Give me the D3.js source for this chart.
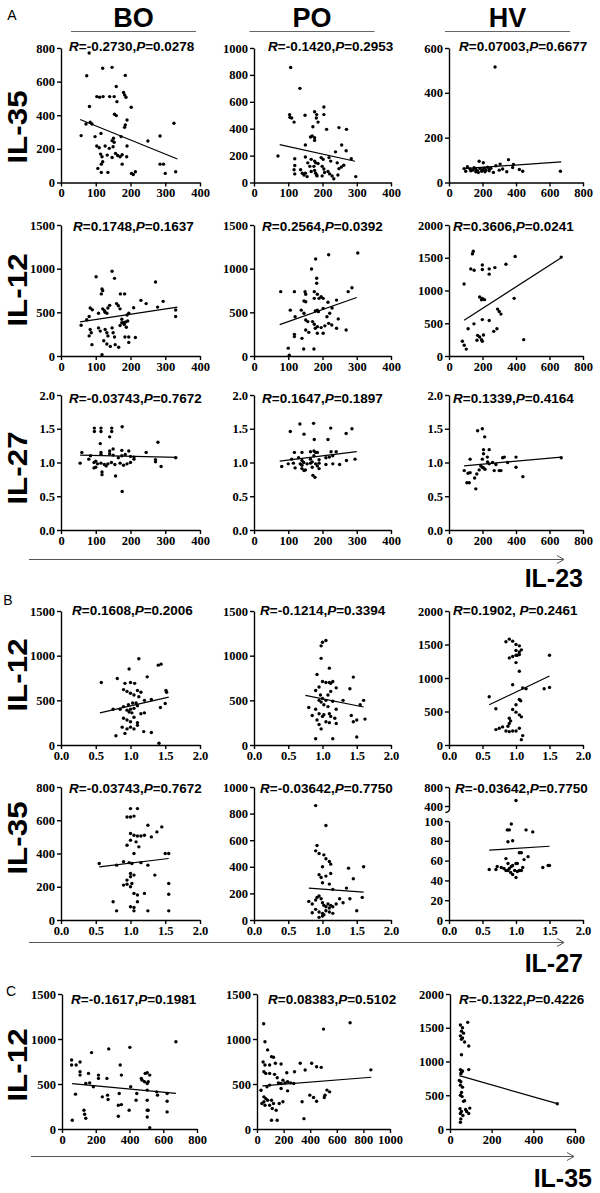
<!DOCTYPE html>
<html><head><meta charset="utf-8">
<script src="https://cdn.jsdelivr.net/npm/d3@7"></script>
<style>body{margin:0;background:#fff}</style></head>
<body><svg id="c" width="600" height="1193"></svg>
<script>
// ---------------- DATA ----------------
const groups = ["BO","PO","HV"];
const sectionLetters = ["A","B","C"];
const rowLabels = ["IL-35","IL-12","IL-27","IL-12","IL-35","IL-12"];
const xAxisTitles = ["IL-23","IL-27","IL-35"];

const stats = [
 [["-0.2730","0.0278"],["-0.1420","0.2953"],["0.07003","0.6677"]],
 [["0.1748","0.1637"],["0.2564","0.0392"],["0.3606","0.0241"]],
 [["-0.03743","0.7672"],["0.1647","0.1897"],["0.1339","0.4164"]],
 [["0.1608","0.2006"],["-0.1214","0.3394"],["0.1902","0.2461"]],
 [["-0.03743","0.7672"],["-0.03642","0.7750"],["-0.03642","0.7750"]],
 [["-0.1617","0.1981"],["0.08383","0.5102"],["-0.1322","0.4226"]]
];

const ticksIL23_400 = [0,100,200,300,400];
const ticksIL23_800 = [0,200,400,600,800];
const ticksIL27 = [0,0.5,1.0,1.5,2.0];
const ticksIL35_800 = [0,200,400,600,800];
const ticksIL35_1000 = [0,200,400,600,800,1000];
const ticksIL35_600 = [0,200,400,600];
const ticksY800 = [0,200,400,600,800];
const ticksY1000 = [0,200,400,600,800,1000];
const ticksY600 = [0,200,400,600];
const ticksY1500 = [0,500,1000,1500];
const ticksY2000 = [0,500,1000,1500,2000];
const ticksY2 = [0,0.5,1.0,1.5,2.0];
const ticksHVlow = [0,20,40,60,80,100];
const ticksHVhigh = [400,800];

// Row A1: IL-23 (x) vs IL-35 (y)
const a1_bo = [[81,770],[120,680],[147,685],[74,635],[185,637],[103,511],[111,507],[121,511],[140,511],[153,511],[159,571],[180,535],[183,521],[187,507],[161,481],[82,452],[202,448],[84,358],[89,348],[154,406],[159,398],[190,372],[185,342],[183,328],[72,348],[58,279],[98,273],[115,292],[151,263],[147,249],[153,239],[173,273],[250,247],[285,277],[325,352],[103,217],[110,207],[127,217],[139,203],[150,213],[190,217],[114,169],[118,153],[157,173],[163,161],[170,153],[176,165],[133,163],[120,123],[116,109],[189,153],[147,149],[106,84],[116,60],[135,60],[176,109],[203,54],[208,48],[214,64],[285,109],[295,109],[300,54],[330,64]];
const a1_bo_fit = [[55,375],[335,140]];
const a1_po = [[107,855],[134,700],[104,505],[105,485],[110,480],[117,449],[149,500],[177,526],[183,505],[182,480],[204,561],[204,505],[187,449],[212,395],[248,408],[270,395],[172,415],[165,338],[170,346],[177,333],[177,313],[150,279],[70,197],[119,177],[150,190],[167,172],[177,159],[180,146],[187,141],[196,185],[202,172],[219,185],[224,159],[238,228],[256,279],[269,236],[284,177],[297,44],[119,126],[117,95],[119,64],[136,95],[141,69],[150,69],[146,56],[155,44],[157,146],[163,120],[167,82],[175,120],[177,90],[180,69],[183,56],[184,49],[199,120],[204,100],[206,74],[199,49],[216,82],[221,64],[228,49],[233,28],[243,146],[248,103],[255,115],[262,128],[245,56]];
const a1_po_fit = [[75,282],[295,158]];
const a1_hv = [[90,62],[110,70],[125,60],[140,55],[150,66],[160,58],[170,52],[180,95],[185,62],[195,50],[205,88],[210,64],[220,55],[230,68],[240,60],[250,63],[265,45],[275,515],[280,75],[300,55],[305,82],[320,60],[345,48],[355,102],[380,67],[385,80],[420,58],[100,50],[130,52],[160,48],[200,56],[215,48],[240,52],[175,45],[440,50],[665,50]];
const a1_hv_fit = [[85,62],[670,92]];

// Row A2: IL-23 (x) vs IL-12 (y)
const a2_bo = [[101,907],[147,970],[154,889],[118,767],[120,748],[116,711],[171,711],[183,711],[272,848],[278,560],[294,626],[330,526],[330,452],[230,637],[245,600],[209,552],[195,489],[190,470],[192,400],[186,390],[180,380],[175,420],[160,600],[165,575],[170,540],[140,580],[135,550],[132,490],[120,540],[125,520],[127,500],[108,489],[90,530],[84,550],[81,452],[74,415],[58,352],[84,303],[87,267],[81,230],[108,322],[113,285],[127,304],[132,267],[135,230],[147,322],[150,267],[154,218],[170,350],[175,380],[182,360],[188,330],[195,218],[184,218],[214,211],[123,174],[132,137],[142,110],[89,130],[156,130],[195,156],[118,15],[166,100]];
const a2_bo_fit = [[55,390],[335,560]];
const a2_po = [[303,1180],[218,1160],[180,1110],[168,997],[183,890],[183,833],[78,737],[118,737],[149,737],[151,707],[176,737],[185,707],[196,679],[202,660],[275,737],[286,782],[146,630],[151,622],[176,660],[190,660],[216,615],[241,640],[106,525],[138,525],[146,490],[179,515],[185,525],[188,508],[202,545],[221,490],[228,550],[120,450],[151,413],[157,394],[213,450],[246,425],[218,374],[227,355],[171,394],[176,363],[185,336],[179,317],[196,325],[207,345],[241,317],[269,298],[151,298],[160,271],[185,260],[202,260],[118,248],[118,222],[140,202],[100,90],[103,10],[145,80],[175,80]];
const a2_po_fit = [[75,360],[300,670]];
const a2_hv = [[145,1600],[140,1560],[395,1520],[90,1100],[130,1330],[150,1310],[199,1390],[199,1320],[240,1330],[274,1350],[240,1250],[340,1400],[183,900],[199,880],[212,860],[194,857],[389,880],[290,716],[300,680],[310,640],[240,541],[199,556],[114,416],[149,491],[286,416],[267,376],[171,315],[183,290],[206,320],[194,250],[167,240],[199,225],[80,225],[91,165],[103,105],[446,250],[670,1510]];
const a2_hv_fit = [[90,545],[670,1500]];

// Row A3: IL-23 (x) vs IL-27 (y)
const a3_bo = [[96,1.51],[96,1.46],[115,1.51],[115,1.46],[146,1.51],[146,1.46],[140,1.38],[176,1.53],[113,1.28],[279,1.30],[60,1.15],[115,1.15],[140,1.17],[150,1.2],[175,1.18],[195,1.17],[245,1.15],[85,1.1],[115,1.12],[140,1.13],[150,1.11],[175,1.1],[185,1.12],[200,1.09],[210,1.08],[55,0.99],[95,1.0],[100,1.02],[105,0.98],[115,0.99],[125,0.97],[135,0.98],[145,1.0],[155,0.97],[170,0.99],[180,0.96],[190,0.98],[200,1.0],[210,1.05],[95,0.92],[100,0.93],[130,0.95],[118,0.86],[118,0.82],[157,0.8],[176,0.57],[272,1.04],[272,1.01],[288,0.94],[330,1.07],[165,1.07],[80,1.05]];
const a3_bo_fit = [[55,1.11],[335,1.075]];
const a3_po = [[106,1.46],[134,1.57],[174,1.58],[146,1.42],[176,1.34],[216,1.34],[224,1.51],[269,1.43],[286,1.50],[118,1.15],[140,1.15],[165,1.16],[175,1.17],[180,1.15],[185,1.15],[225,1.16],[240,1.16],[81,0.94],[110,1.05],[130,1.07],[140,1.03],[165,1.05],[175,1.1],[190,1.04],[210,1.07],[220,1.08],[230,1.1],[100,0.98],[115,0.99],[135,0.98],[140,0.96],[145,1.0],[155,0.98],[165,0.99],[170,1.01],[180,0.98],[190,0.99],[210,0.97],[230,0.98],[250,0.97],[270,1.03],[295,1.05],[120,0.92],[140,0.91],[150,0.89],[170,0.93],[185,0.95],[190,0.91],[146,0.88],[172,0.81],[178,0.78]];
const a3_po_fit = [[75,1.02],[300,1.16]];
const a3_hv = [[171,1.47],[199,1.50],[213,1.38],[206,1.19],[240,1.19],[91,0.88],[114,0.84],[126,0.85],[107,0.70],[121,0.70],[160,0.61],[153,0.77],[166,0.83],[190,0.95],[199,0.93],[206,0.92],[215,0.9],[126,1.05],[199,1.05],[206,1.13],[229,1.08],[240,0.98],[260,1.0],[280,0.97],[300,0.88],[310,0.88],[330,1.08],[320,1.07],[400,0.93],[441,0.79],[400,1.08],[180,0.89],[230,1.01],[270,0.88],[350,1.0],[670,1.07]];
const a3_hv_fit = [[90,0.95],[670,1.08]];

// Row B1: IL-27 (x) vs IL-12 (y)
const b1_bo = [[0.58,700],[0.81,745],[0.98,850],[1.12,965],[1.40,894],[1.44,905],[1.24,763],[0.92,690],[1.0,700],[1.06,690],[0.9,620],[0.95,600],[1.0,580],[1.05,560],[1.1,610],[1.12,540],[1.15,590],[1.2,500],[1.3,510],[1.51,610],[1.52,590],[1.5,465],[1.43,420],[0.75,400],[0.85,400],[0.9,430],[0.95,390],[0.98,370],[1.0,400],[1.02,360],[1.05,410],[1.08,470],[1.1,440],[1.15,350],[1.2,360],[0.9,300],[0.95,280],[1.0,260],[1.05,310],[1.1,250],[0.88,200],[0.95,180],[1.0,200],[1.05,180],[1.1,220],[0.79,104],[0.92,130],[1.19,150],[1.30,140],[1.41,20],[0.97,450],[1.03,470]];
const b1_bo_fit = [[0.56,360],[1.55,535]];
const b1_po = [[0.98,1110],[1.0,1150],[1.05,1170],[0.98,970],[1.1,860],[0.92,790],[1.0,710],[0.95,650],[1.05,700],[1.1,700],[1.12,690],[1.15,710],[1.2,640],[1.45,760],[1.4,630],[0.8,420],[0.85,330],[0.9,400],[0.95,500],[0.98,480],[1.0,520],[1.02,450],[1.05,500],[1.08,430],[1.1,350],[1.12,320],[1.15,490],[1.18,300],[1.2,400],[1.3,500],[1.42,330],[1.45,260],[1.5,280],[1.55,450],[1.6,500],[1.62,290],[0.92,280],[0.95,230],[0.98,180],[1.05,260],[1.1,250],[1.2,240],[0.9,70],[1.15,70],[1.5,90],[1.0,320],[0.95,350],[1.02,340],[1.08,560],[1.12,600],[0.9,610],[0.97,560]];
const b1_po_fit = [[0.75,555],[1.6,425]];
const b1_hv = [[0.85,1540],[0.9,1580],[0.95,1550],[1.0,1500],[1.05,1480],[1.0,1410],[1.05,1390],[1.08,1420],[0.95,1320],[0.9,1300],[1.0,1340],[1.02,1340],[1.05,1350],[1.0,1230],[1.05,1100],[1.5,1340],[0.95,900],[1.15,840],[1.1,850],[1.42,840],[1.5,860],[0.6,720],[1.0,600],[1.05,680],[1.07,660],[0.95,530],[1.0,490],[1.05,450],[1.08,420],[0.7,540],[0.9,400],[0.92,360],[0.9,320],[0.88,280],[0.7,230],[0.75,250],[0.8,270],[0.85,210],[0.9,200],[0.95,210],[1.0,210],[1.05,250],[1.1,140],[1.08,80]];
const b1_hv_fit = [[0.6,600],[1.5,1030]];

// Row B2: IL-27 (x) vs IL-35 (y)
const b2_bo = [[1.0,670],[1.1,670],[0.95,620],[1.0,620],[1.05,625],[1.25,570],[1.45,560],[1.0,520],[1.05,510],[1.1,505],[1.15,505],[1.2,510],[1.3,500],[1.38,530],[1.0,480],[1.08,470],[0.95,450],[1.12,440],[1.05,400],[1.5,400],[1.55,400],[0.55,340],[0.8,330],[0.9,350],[0.98,345],[1.02,340],[1.15,345],[1.25,330],[1.0,280],[1.05,270],[1.0,260],[0.95,240],[1.35,270],[0.9,210],[0.95,215],[1.0,200],[1.02,220],[1.05,160],[1.1,150],[1.2,160],[1.55,220],[1.55,155],[0.75,110],[1.0,80],[1.05,75],[1.1,110],[0.8,55],[1.05,55],[1.25,55],[1.55,55]];
const b2_bo_fit = [[0.55,320],[1.55,370]];
const b2_po = [[0.9,860],[1.05,710],[0.92,560],[0.9,520],[0.95,500],[1.02,490],[1.05,460],[1.1,440],[1.12,420],[1.0,400],[1.38,390],[1.6,400],[1.12,350],[0.95,340],[0.98,320],[1.05,330],[1.45,310],[1.0,280],[1.1,270],[1.35,240],[1.15,230],[0.8,140],[0.85,120],[0.9,150],[0.92,170],[0.95,180],[0.98,160],[1.0,130],[1.02,110],[1.05,100],[1.08,120],[1.1,90],[1.12,110],[1.15,100],[1.2,120],[1.25,160],[1.3,130],[1.4,160],[1.58,170],[0.9,80],[0.95,60],[1.0,50],[1.02,40],[1.05,70],[1.1,60],[1.15,50],[1.5,70],[0.95,20],[1.0,30],[0.85,55]];
const b2_po_fit = [[0.8,240],[1.6,210]];
const b2_hv = [[1.0,515],[0.93,97],[0.87,91],[0.9,91],[1.15,91],[1.25,89],[0.88,79],[0.95,80],[1.05,68],[1.08,68],[1.18,64],[1.12,61],[0.85,62],[0.88,57],[0.93,54],[0.95,55],[1.0,57],[1.02,57],[0.6,51],[0.7,51],[0.72,54],[0.78,53],[0.82,52],[0.85,50],[0.88,50],[0.9,52],[0.92,48],[0.95,46],[0.98,50],[1.0,43],[1.02,49],[1.05,50],[1.08,50],[1.1,53],[1.4,53],[1.48,55],[1.5,55]];
const b2_hv_fit = [[0.6,70.5],[1.5,74.5]];

// Row C: IL-35 (x) vs IL-12 (y)
const c_bo = [[675,970],[277,890],[402,907],[175,849],[57,767],[57,711],[84,711],[107,745],[107,636],[107,599],[80,387],[157,618],[164,513],[216,599],[216,562],[266,562],[186,469],[239,357],[270,376],[273,327],[345,711],[352,599],[339,394],[334,264],[352,271],[334,141],[398,208],[407,469],[443,394],[439,320],[470,562],[475,543],[489,525],[493,618],[505,625],[520,599],[505,506],[511,525],[505,432],[505,320],[505,208],[511,208],[505,134],[520,15],[561,413],[566,376],[623,394],[623,309],[623,190],[130,208],[134,164],[141,119],[61,97],[141,506]];
const c_bo_fit = [[60,505],[675,395]];
const c_po = [[50,1170],[500,1110],[700,1180],[60,970],[80,879],[109,804],[124,797],[46,745],[60,711],[95,711],[52,636],[66,618],[95,618],[138,730],[181,722],[132,607],[152,570],[224,625],[282,636],[325,730],[411,730],[448,692],[483,685],[362,655],[526,432],[546,413],[397,376],[425,350],[448,309],[511,376],[506,350],[339,302],[353,115],[52,357],[66,338],[52,302],[80,320],[37,283],[60,264],[109,320],[124,283],[95,264],[115,227],[195,302],[144,208],[167,283],[109,97],[152,97],[161,513],[181,506],[210,513],[230,525],[253,513],[276,506],[195,543],[181,450],[230,424],[75,469],[95,488],[856,657],[30,430]];
const c_po_fit = [[40,480],[860,575]];
const c_hv = [[50,1540],[60,1500],[55,1450],[65,1420],[50,1380],[60,1350],[55,1330],[85,1580],[70,1290],[90,1230],[55,1100],[50,880],[60,860],[55,840],[52,820],[90,880],[45,720],[52,700],[50,650],[60,620],[55,540],[50,500],[58,480],[70,420],[65,410],[48,300],[55,260],[50,230],[62,200],[52,150],[50,100],[75,290],[80,260],[90,230],[95,310],[515,375]];
const c_hv_fit = [[45,790],[515,375]];

// ---------------- LAYOUT ----------------
const svg = d3.select("#c");
const COLX = [[61,200],[254,391],[449,583]];
const COLX_C = [[62,197],[257,390],[450,575]];
const ROWY = [[48,182.5],[225,356],[395,530],[611,745],[787,920],[994,1129]];
const STAT_X = [[69,268,459],[73,262,453],[69,262,453],[72,260,453],[69,260,455],[71,268,459]];
const STAT_Y = [51,231,403,615,793,1004];
const ROWLABEL_Y = [127,290,468,675,838,1065];

const fmtInt = d3.format("d"), fmt1 = d3.format(".1f");
const SERIF = "'Liberation Serif','Times New Roman',serif";
const SANS = "'Liberation Sans',Arial,Helvetica,sans-serif";

function styleAxis(g){
  g.selectAll("path.domain").attr("stroke","#000").attr("stroke-width",1.4);
  g.selectAll(".tick line").attr("stroke","#000").attr("stroke-width",1.4);
  g.selectAll(".tick text").attr("font-family",SERIF).attr("font-weight","bold")
   .attr("font-size",12.5).attr("fill","#000");
}

function drawPanel(o){
  const g = svg.append("g");
  const x = d3.scaleLinear().domain([o.xTicks[0], o.xTicks[o.xTicks.length-1]]).range([o.x0,o.x1]);
  let yOf;
  if(!o.broken){
    const y = d3.scaleLinear().domain([o.yTicks[0], o.yTicks[o.yTicks.length-1]]).range([o.y1,o.y0]);
    yOf = v=>y(v);
    const ya = g.append("g").attr("transform",`translate(${o.x0},0)`)
      .call(d3.axisLeft(y).tickValues(o.yTicks).tickSize(4).tickSizeOuter(0).tickPadding(2).tickFormat(o.yFmt));
    styleAxis(ya);
  } else {
    const yLow = d3.scaleLinear().domain([0,100]).range([o.y1,821]);
    const yHigh = d3.scaleLinear().domain([400,800]).range([806,o.y0]);
    yOf = v=> v>=400 ? yHigh(v) : yLow(v);
    const ya = g.append("g").attr("transform",`translate(${o.x0},0)`)
      .call(d3.axisLeft(yLow).tickValues(ticksHVlow).tickSize(4).tickSizeOuter(0).tickPadding(2).tickFormat(fmtInt));
    styleAxis(ya);
    const yb = g.append("g").attr("transform",`translate(${o.x0},0)`)
      .call(d3.axisLeft(yHigh).tickValues(ticksHVhigh).tickSize(4).tickSizeOuter(0).tickPadding(2).tickFormat(fmtInt));
    styleAxis(yb);
    g.append("path").attr("d",`M${o.x0+0.5},806 L${o.x0+0.5},809 Q${o.x0+0.5},812 ${o.x0-3.5},812.5`)
      .attr("fill","none").attr("stroke","#000").attr("stroke-width",1.4);
  }
  const xa = g.append("g").attr("transform",`translate(0,${o.y1})`)
    .call(d3.axisBottom(x).tickValues(o.xTicks).tickSize(4).tickSizeOuter(0).tickPadding(2).tickFormat(o.xFmt));
  styleAxis(xa);
  g.append("line")
    .attr("x1",x(o.fit[0][0])).attr("y1",yOf(o.fit[0][1]))
    .attr("x2",x(o.fit[1][0])).attr("y2",yOf(o.fit[1][1]))
    .attr("stroke","#000").attr("stroke-width",1.2);
  g.selectAll("circle.pt").data(o.pts).join("circle").attr("class","pt")
    .attr("cx",d=>x(d[0])).attr("cy",d=>yOf(d[1])).attr("r",1.7).attr("fill","#000");
  const t = g.append("text").attr("x",o.sx).attr("y",o.sy)
    .attr("font-family",SANS).attr("font-weight","bold").attr("font-size",13.5).attr("fill","#000");
  t.append("tspan").attr("font-style","italic").text("R");
  t.append("tspan").text("="+o.stat[0]+","+(o.space?" ":""));
  t.append("tspan").attr("font-style","italic").text("P");
  t.append("tspan").text("="+o.stat[1]);
}

const rows = [
  {pts:[a1_bo,a1_po,a1_hv], fits:[a1_bo_fit,a1_po_fit,a1_hv_fit], xT:[ticksIL23_400,ticksIL23_400,ticksIL23_800], yT:[ticksY800,ticksY1000,ticksY600], xF:fmtInt, yF:fmtInt},
  {pts:[a2_bo,a2_po,a2_hv], fits:[a2_bo_fit,a2_po_fit,a2_hv_fit], xT:[ticksIL23_400,ticksIL23_400,ticksIL23_800], yT:[ticksY1500,ticksY1500,ticksY2000], xF:fmtInt, yF:fmtInt},
  {pts:[a3_bo,a3_po,a3_hv], fits:[a3_bo_fit,a3_po_fit,a3_hv_fit], xT:[ticksIL23_400,ticksIL23_400,ticksIL23_800], yT:[ticksY2,ticksY2,ticksY2], xF:fmtInt, yF:fmt1},
  {pts:[b1_bo,b1_po,b1_hv], fits:[b1_bo_fit,b1_po_fit,b1_hv_fit], xT:[ticksIL27,ticksIL27,ticksIL27], yT:[ticksY1500,ticksY1500,ticksY2000], xF:fmt1, yF:fmtInt},
  {pts:[b2_bo,b2_po,b2_hv], fits:[b2_bo_fit,b2_po_fit,b2_hv_fit], xT:[ticksIL27,ticksIL27,ticksIL27], yT:[ticksY800,ticksY1000,null], xF:fmt1, yF:fmtInt},
  {pts:[c_bo,c_po,c_hv], fits:[c_bo_fit,c_po_fit,c_hv_fit], xT:[ticksIL35_800,ticksIL35_1000,ticksIL35_600], yT:[ticksY1500,ticksY1500,ticksY2000], xF:fmtInt, yF:fmtInt}
];

rows.forEach((r,ri)=>{
  for(let ci=0;ci<3;ci++){
    const cx = ri===5 ? COLX_C[ci] : COLX[ci];
    drawPanel({
      pts:r.pts[ci], fit:r.fits[ci], xTicks:r.xT[ci], yTicks:r.yT[ci],
      xFmt:r.xF, yFmt:r.yF, x0:cx[0], x1:cx[1], y0:ROWY[ri][0], y1:ROWY[ri][1],
      broken: (ri===4 && ci===2),
      stat:stats[ri][ci], sx:STAT_X[ri][ci], sy:STAT_Y[ri], space:(ri===3 && ci===2)
    });
  }
  svg.append("text").attr("transform",`translate(27,${ROWLABEL_Y[ri]}) rotate(-90) scale(1.12,1)`)
    .attr("text-anchor","middle").attr("font-family",SANS).attr("font-weight","bold")
    .attr("font-size",28).attr("fill","#000").text(rowLabels[ri]);
});

// headers
const headX = [133.5,312,507.5];
groups.forEach((gname,i)=>{
  svg.append("text").attr("x",headX[i]).attr("y",27).attr("text-anchor","middle")
    .attr("font-family",SANS).attr("font-weight","bold").attr("font-size",27).attr("fill","#000").text(gname);
  svg.append("line").attr("x1",headX[i]-62.5).attr("x2",headX[i]+62.5).attr("y1",31.5).attr("y2",31.5)
    .attr("stroke","#666").attr("stroke-width",1);
});

// section letters
const letterPos = [[12,20],[8,605],[11,996]];
sectionLetters.forEach((l,i)=>{
  svg.append("text").attr("x",letterPos[i][0]).attr("y",letterPos[i][1]).attr("text-anchor","middle")
    .attr("font-family",SANS).attr("font-size",14).attr("fill","#000").text(l);
});

// bottom arrows and axis titles
const arrowY = [559,942,1156];
const arrowX = [[29,564],[29,564],[31,574]];
const titleRight = [583,583,592];
const titleBase = [587,972,1187];
xAxisTitles.forEach((t,i)=>{
  const [a,b] = arrowX[i], y = arrowY[i];
  svg.append("line").attr("x1",a).attr("x2",b).attr("y1",y+0.5).attr("y2",y+0.5).attr("stroke","#555").attr("stroke-width",1);
  svg.append("path").attr("d",`M${b-7},${y-3.5} L${b},${y+0.5} L${b-7},${y+4.5}`)
    .attr("fill","none").attr("stroke","#555").attr("stroke-width",1);
  svg.append("text").attr("x",titleRight[i]).attr("y",titleBase[i]).attr("text-anchor","end")
    .attr("font-family",SANS).attr("font-weight","bold").attr("font-size",25).attr("fill","#000").text(t);
});
</script>
</body></html>
